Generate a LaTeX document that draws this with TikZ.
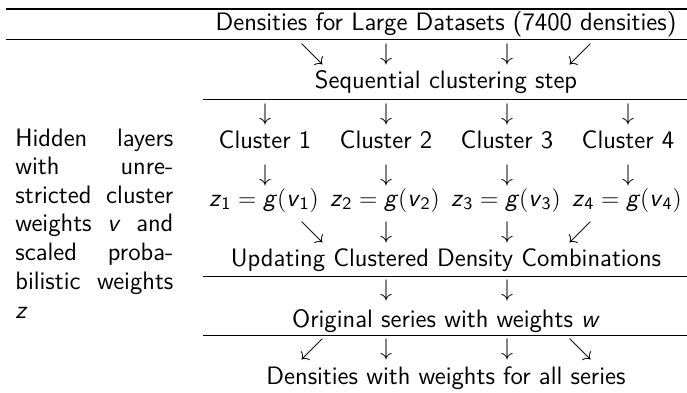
\documentclass[tikz,border=0pt]{standalone}
\usepackage{amsmath}
\renewcommand{\familydefault}{\sfdefault}
\newcommand{\smi}[1]{\textsf{\textit{#1}}}
\newcommand{\ssub}[1]{_{\textsf{#1}}}
\tikzset{
  txt/.style={inner sep=0pt, anchor=base, font=\fontsize{12.6}{15}\selectfont},
  arr/.style={inner sep=0pt, anchor=center, font=\fontsize{12.6}{15}\selectfont},
  lefttxt/.style={inner sep=0pt, anchor=base west, font=\fontsize{12.6}{15}\selectfont},
  heavyrule/.style={line width=0.8pt},
  lightrule/.style={line width=0.4pt}
}
\newcommand{\lline}[1]{\hbox to 79pt{#1}}
\begin{document}
\begin{tikzpicture}[x=0.5pt,y=-0.5pt]
\useasboundingbox (0,0) rectangle (687,392);
% rules
\coordinate (r1a) at (6,9);   \coordinate (r1b) at (687,9);
\coordinate (r2a) at (6,39.5);  \coordinate (r2b) at (687,39.5);
\coordinate (r3a) at (203,99.5); \coordinate (r3b) at (687,99.5);
\coordinate (r4a) at (203,276); \coordinate (r4b) at (687,276);
\coordinate (r5a) at (203,335.5); \coordinate (r5b) at (687,335.5);
\draw[heavyrule] (r1a) -- (r1b);
\draw[heavyrule] (r2a) -- (r2b);
\draw[lightrule] (r3a) -- (r3b);
\draw[lightrule] (r4a) -- (r4b);
\draw[lightrule] (r5a) -- (r5b);
% title
\node[txt] (title) at (446,30) {Densities for Large Datasets (7400 densities)};
% arrows row 1
\node[arr] (a11) at (312,54) {$\searrow$};
\node[arr] (a12) at (386,54) {$\downarrow$};
\node[arr] (a13) at (507,54) {$\downarrow$};
\node[arr] (a14) at (580,54) {$\swarrow$};
\node[txt] (seq) at (446,88) {Sequential clustering step};
% arrows row 2
\node[arr] (a21) at (265,114) {$\downarrow$};
\node[arr] (a22) at (386,114) {$\downarrow$};
\node[arr] (a23) at (507,114) {$\downarrow$};
\node[arr] (a24) at (628,114) {$\downarrow$};
\node[txt] (c1) at (265,148) {Cluster 1};
\node[txt] (c2) at (386,148) {Cluster 2};
\node[txt] (c3) at (507,148) {Cluster 3};
\node[txt] (c4) at (628,148) {Cluster 4};
% arrows row 3
\node[arr] (a31) at (265,175) {$\downarrow$};
\node[arr] (a32) at (386,175) {$\downarrow$};
\node[arr] (a33) at (507,175) {$\downarrow$};
\node[arr] (a34) at (628,175) {$\downarrow$};
\node[txt] (z1) at (264,206) {$\smi{z}\ssub{1}=\smi{g}(\smi{v}\ssub{1})$};
\node[txt] (z2) at (385,206) {$\smi{z}\ssub{2}=\smi{g}(\smi{v}\ssub{2})$};
\node[txt] (z3) at (506,206) {$\smi{z}\ssub{3}=\smi{g}(\smi{v}\ssub{3})$};
\node[txt] (z4) at (627,206) {$\smi{z}\ssub{4}=\smi{g}(\smi{v}\ssub{4})$};
% arrows row 4
\node[arr] (a41) at (312,232) {$\searrow$};
\node[arr] (a42) at (386,232) {$\downarrow$};
\node[arr] (a43) at (507,232) {$\downarrow$};
\node[arr] (a44) at (580,232) {$\swarrow$};
\node[txt] (upd) at (446,266) {Updating Clustered Density Combinations};
% arrows row 5
\node[arr] (a52) at (386,290) {$\downarrow$};
\node[arr] (a53) at (507,290) {$\downarrow$};
\node[txt] (orig) at (446,327) {Original series with weights \smi{w}};
% arrows row 6
\node[arr] (a61) at (312,349) {$\swarrow$};
\node[arr] (a62) at (386,349) {$\downarrow$};
\node[arr] (a63) at (507,349) {$\downarrow$};
\node[arr] (a64) at (580,349) {$\searrow$};
\node[txt] (dens) at (446,384) {Densities with weights for all series};
% left paragraph
\node[lefttxt] (h1) at (15,146) {\lline{Hidden\hfill layers}};
\node[lefttxt] (h2) at (15,174.5) {\lline{with\hfill unre-}};
\node[lefttxt] (h3) at (15,203) {\lline{stricted\hfill cluster}};
\node[lefttxt] (h4) at (15,231.5) {\lline{weights\hfill \smi{v}\hfill and}};
\node[lefttxt] (h5) at (15,260) {\lline{scaled\hfill proba-}};
\node[lefttxt] (h6) at (15,289) {\lline{bilistic\hfill weights}};
\node[lefttxt] (h7) at (15,318) {\lline{\smi{z}\hfill}};
\end{tikzpicture}
\end{document}
